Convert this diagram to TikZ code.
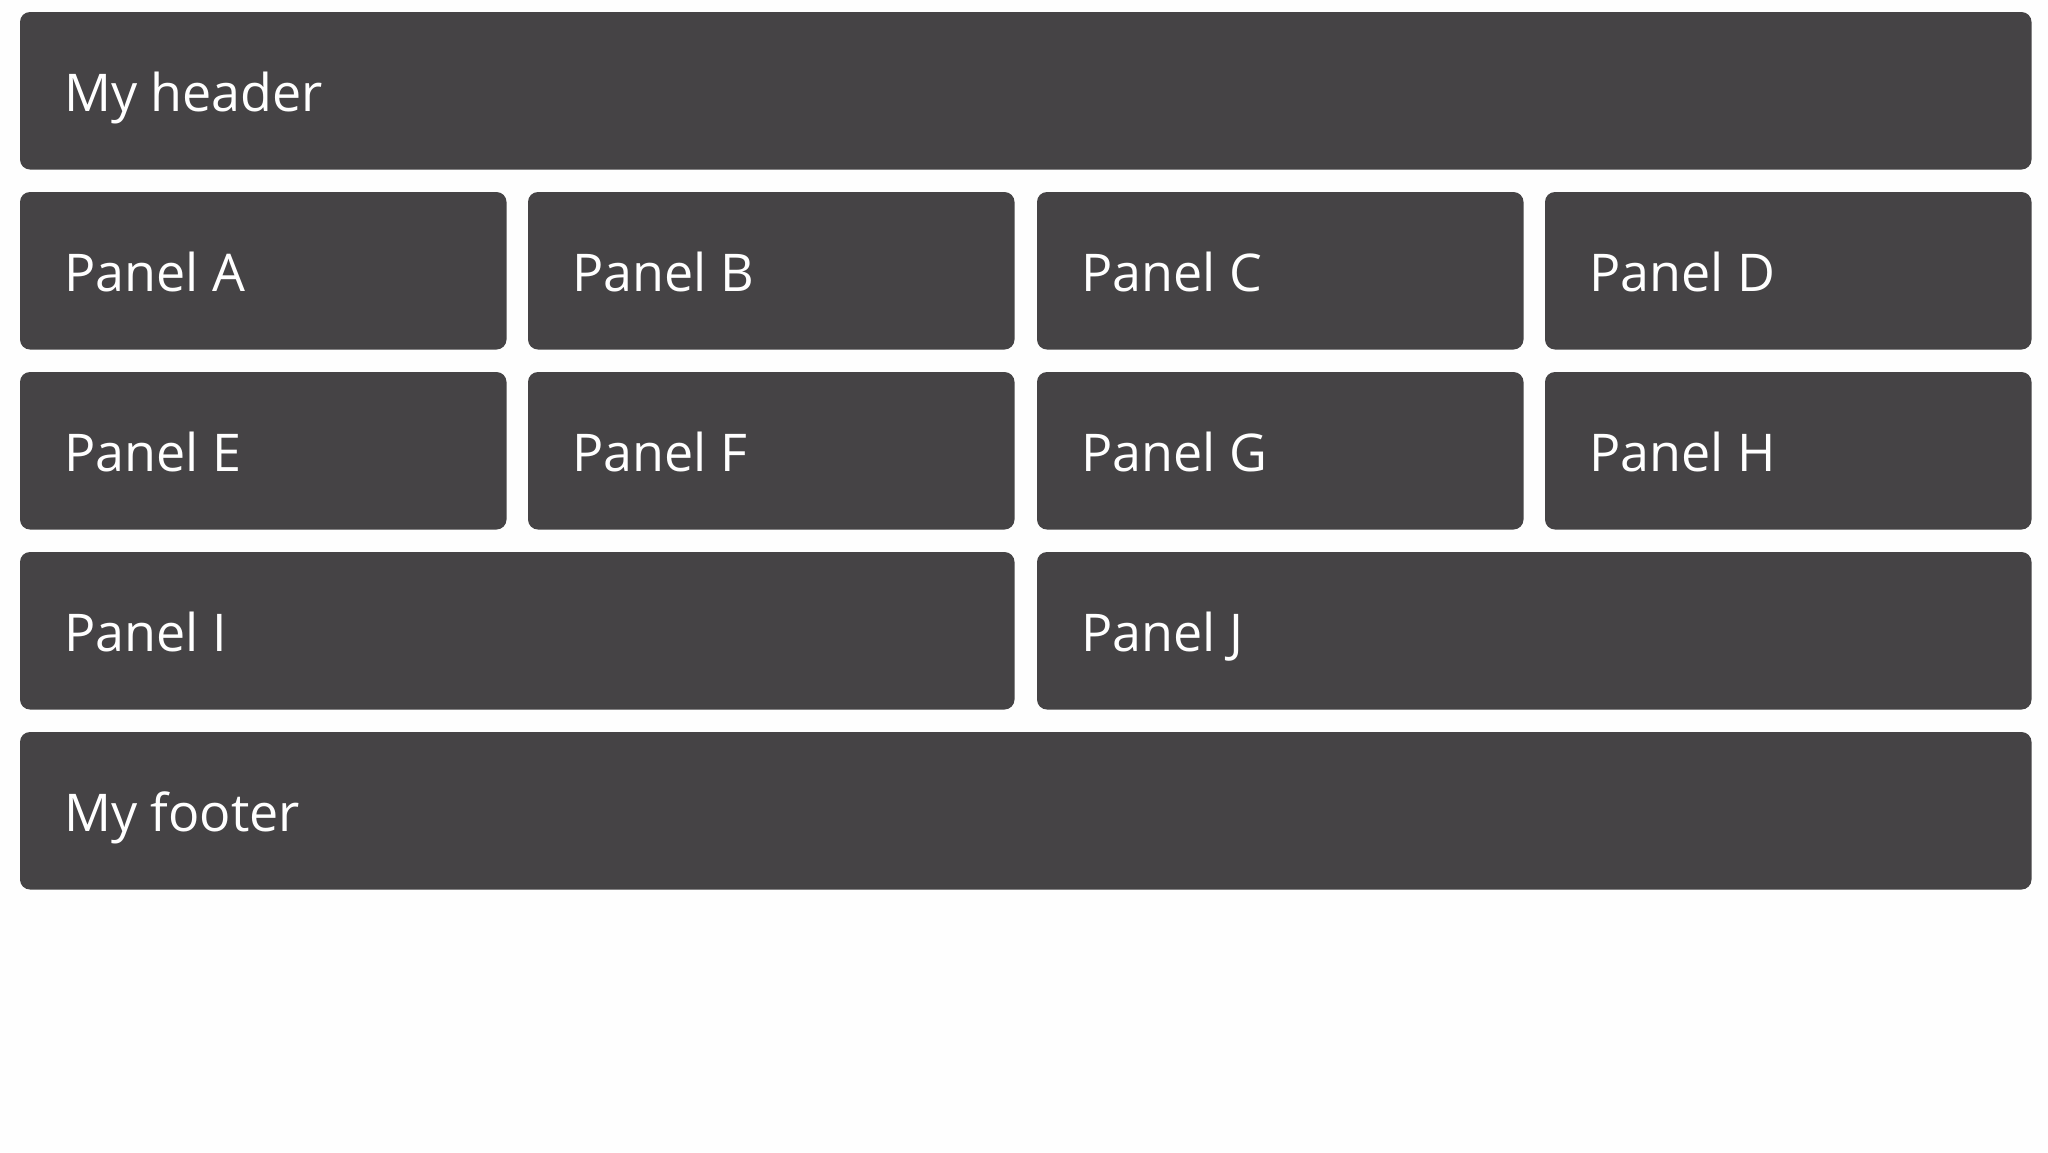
\documentclass[tikz,border=0pt]{standalone}
\usepackage{fontspec}
\setmainfont{Open Sans}
\usetikzlibrary{calc}
\definecolor{panelgray}{RGB}{69,67,69}
\definecolor{bgwhite}{RGB}{254,254,254}
\tikzset{
  panel/.style={fill=panelgray, draw=none, rounded corners=10pt, inner sep=0pt, outer sep=0pt, anchor=north west, minimum height=157.5pt},
  quarter/.style={panel, minimum width=486.5pt},
  half/.style={panel, minimum width=994.5pt},
  full/.style={panel, minimum width=2011.5pt},
  lbl/.style={text=white, font=\fontsize{52}{62}\selectfont, anchor=base west, inner sep=0pt}
}
\begin{document}
\begin{tikzpicture}[x=1pt,y=-1pt]
\fill[bgwhite] (0,0) rectangle (2048,1152);
\useasboundingbox (0,0) rectangle (2048,1152);
% header
\node[full] (hdr) at (20,12) {};
\node[lbl] (hdrt) at ($(hdr.north west)+(44,99.5)$) {My header};
% row 1
\node[quarter] (pa) at (20,192) {};
\node[quarter] (pb) at (528,192) {};
\node[quarter] (pc) at (1037,192) {};
\node[quarter] (pd) at (1545,192) {};
\node[lbl] (ta) at ($(pa.north west)+(44,99.5)$) {Panel A};
\node[lbl] (tb) at ($(pb.north west)+(44,99.5)$) {Panel B};
\node[lbl] (tc) at ($(pc.north west)+(44,99.5)$) {Panel C};
\node[lbl] (td) at ($(pd.north west)+(44,99.5)$) {Panel D};
% row 2
\node[quarter] (pe) at (20,372) {};
\node[quarter] (pf) at (528,372) {};
\node[quarter] (pg) at (1037,372) {};
\node[quarter] (ph) at (1545,372) {};
\node[lbl] (te) at ($(pe.north west)+(44,99.5)$) {Panel E};
\node[lbl] (tf) at ($(pf.north west)+(44,99.5)$) {Panel F};
\node[lbl] (tg) at ($(pg.north west)+(44,99.5)$) {Panel G};
\node[lbl] (th) at ($(ph.north west)+(44,99.5)$) {Panel H};
% row 3
\node[half] (pi) at (20,552) {};
\node[half] (pj) at (1037,552) {};
\node[lbl] (ti) at ($(pi.north west)+(44,99.5)$) {Panel I};
\node[lbl] (tj) at ($(pj.north west)+(44,99.5)$) {Panel J};
% footer
\node[full] (ftr) at (20,732) {};
\node[lbl] (ftrt) at ($(ftr.north west)+(44,99.5)$) {My footer};
\end{tikzpicture}
\end{document}
